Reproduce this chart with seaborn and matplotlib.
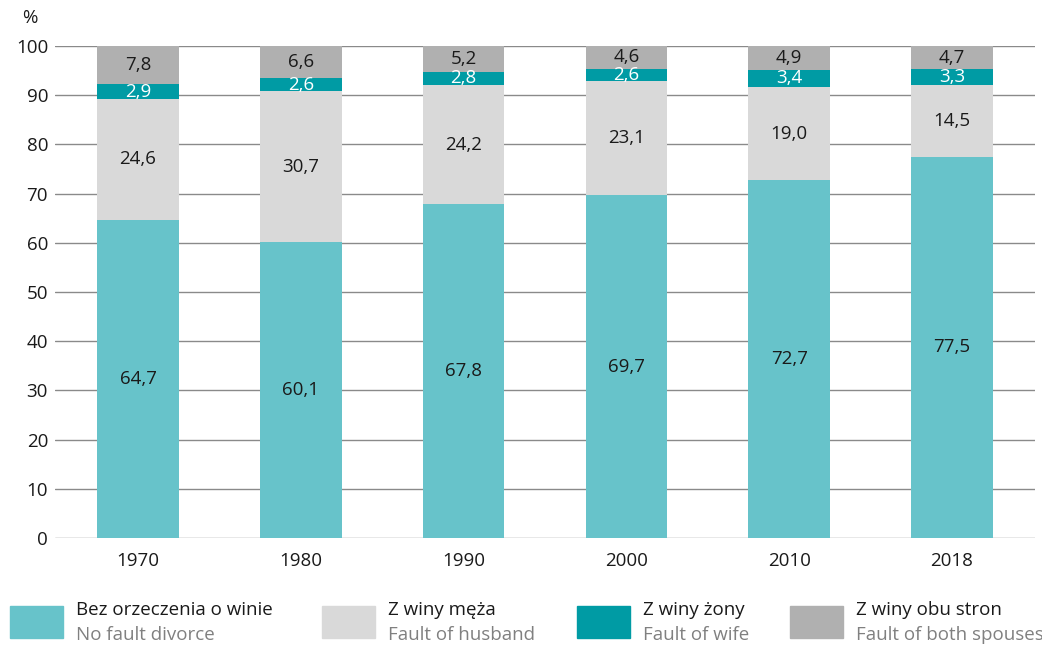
import numpy as np
import pandas as pd
import matplotlib
matplotlib.use("Agg")
import matplotlib.pyplot as plt
from matplotlib.patches import Rectangle
import seaborn as sns

years = ["1970", "1980", "1990", "2000", "2010", "2018"]
no_fault = [64.7, 60.1, 67.8, 69.7, 72.7, 77.5]
husband = [24.6, 30.7, 24.2, 23.1, 19.0, 14.5]
wife = [2.9, 2.6, 2.8, 2.6, 3.4, 3.3]
both = [7.8, 6.6, 5.2, 4.6, 4.9, 4.7]

labels_pl = ["Bez orzeczenia o winie", "Z winy męża", "Z winy żony", "Z winy obu stron"]
labels_en = ["No fault divorce", "Fault of husband", "Fault of wife", "Fault of both spouses"]
colors = ["#67C3CA", "#D9D9D9", "#009BA4", "#B0B0B0"]
text_colors = ["#1a1a1a", "#1a1a1a", "white", "#1a1a1a"]
y_ticks = list(range(0, 101, 10))

sns.set_theme(style="white")
plt.rcParams["font.family"] = ["Open Sans", "DejaVu Sans"]

FS = 13.5

fig = plt.figure(figsize=(10.42, 6.46), dpi=100)
ax = fig.add_axes([55 / 1042, 1 - 538 / 646, (1035 - 55) / 1042, (538 - 46) / 646])

series = [no_fault, husband, wife, both]
bottom = np.zeros(len(years))
for vals, col, tcol in zip(series, colors, text_colors):
    df = pd.DataFrame({"year": years, "value": vals})
    sns.barplot(data=df, x="year", y="value", color=col, width=0.5,
                bottom=bottom, ax=ax, saturation=1, zorder=3, linewidth=0)
    for i, v in enumerate(vals):
        ax.text(i, bottom[i] + v / 2, f"{v:.1f}".replace(".", ","),
                ha="center", va="center", fontsize=FS, color=tcol, zorder=4)
    bottom = bottom + np.array(vals)

ax.set_ylim(0, 100)
ax.set_xlim(-0.51, len(years) - 0.49)
ax.set_yticks(y_ticks)
ax.set_yticklabels([str(t) for t in y_ticks], fontsize=FS, color="#1a1a1a")
ax.tick_params(axis="x", labelsize=FS, colors="#1a1a1a", length=0, pad=10)
ax.tick_params(axis="y", length=0, pad=5)
ax.set_xlabel("")
ax.set_ylabel("")
for t in y_ticks:
    ax.axhline(t, color="#8a8a8a", linewidth=1.0, zorder=1)
for s in ax.spines.values():
    s.set_visible(False)
ax.grid(False)

fig.text(22 / 1042, 1 - 18 / 646, "%", fontsize=FS, color="#1a1a1a", ha="left", va="center")

# legend drawn in figure coordinates
sq_x = [10, 322, 577, 790]
for x0, col, pl, en in zip(sq_x, colors, labels_pl, labels_en):
    fig.patches.append(Rectangle((x0 / 1042, 1 - 638 / 646), 53 / 1042, 32 / 646,
                                 transform=fig.transFigure, color=col, figure=fig))
    fig.text((x0 + 66) / 1042, 1 - 610 / 646, pl, fontsize=FS, color="#1a1a1a",
             ha="left", va="center")
    fig.text((x0 + 66) / 1042, 1 - 635 / 646, en, fontsize=FS, color="#808080",
             ha="left", va="center")

fig.savefig("out.png", dpi=100)
